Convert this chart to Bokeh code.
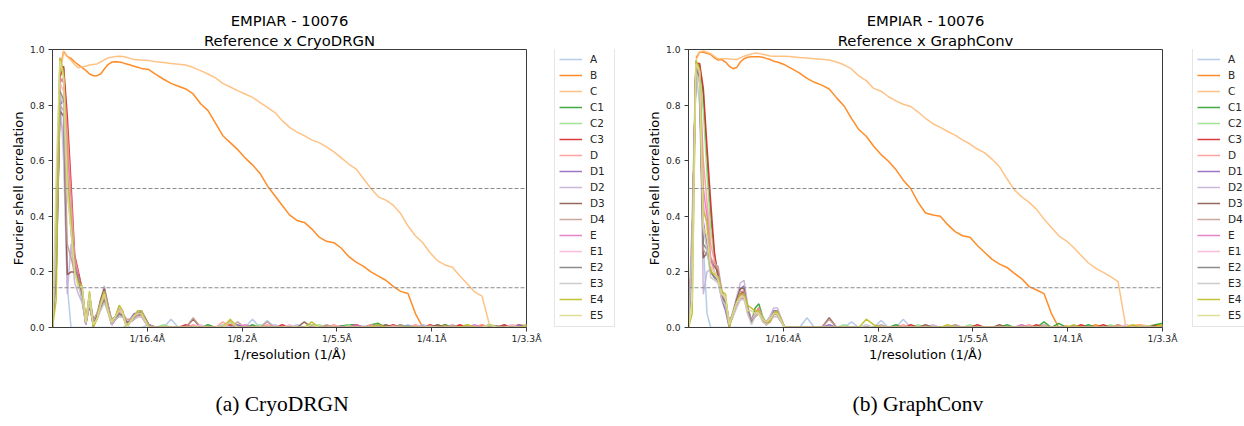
from bokeh.plotting import figure
from bokeh.models import Legend, LegendItem, Span, Title, FixedTicker, PrintfTickFormatter, Range1d, Label
from bokeh.core.properties import value
from bokeh.layouts import row, column
from bokeh.embed import file_html
from bokeh.resources import INLINE

nan = float("nan")

# ---------------- data ----------------
BOX_SIZE = 256
PIXEL_SIZE = 1.65  # Å / pixel  -> Nyquist = 1/3.3 Å
# Fourier shells: every shell at low frequency, every second shell beyond
shell_index = list(range(0, 24)) + list(range(24, 129, 2))
freq = [s / (BOX_SIZE * PIXEL_SIZE) for s in shell_index]

series_names = ["A", "B", "C", "C1", "C2", "C3", "D", "D1", "D2", "D3", "D4",
                "E", "E1", "E2", "E3", "E4", "E5"]
series_colors = ["#aec7e8", "#ff7f0e", "#ffbb78", "#2ca02c", "#98df8a", "#d62728",
                 "#ff9896", "#9467bd", "#c5b0d5", "#8c564b", "#c49c94", "#e377c2",
                 "#f7b6d2", "#7f7f7f", "#c7c7c7", "#bcbd22", "#dbdb8d"]

x_tick_shells = [25.6, 51.2, 76.8, 102.4, 128]
x_tick_labels = ["1/16.4Å", "1/8.2Å", "1/5.5Å", "1/4.1Å", "1/3.3Å"]
y_ticks = [0.0, 0.2, 0.4, 0.6, 0.8, 1.0]
fsc_thresholds = [0.5, 0.143]
captions = ["(a) CryoDRGN", "(b) GraphConv"]

# ---- Reference x CryoDRGN ----
cryodrgn_A = [0, 0.2, 0.86, 0.6, 0.15, 0, 0, 0, 0, 0, 0, 0, 0, 0, 0, 0, 0, 0, 0, 0, 0.01, 0, 0, 0,
              0, 0.01, 0, 0, 0.03, 0, 0, 0, 0, 0, 0, 0, 0, 0.01,
              0, 0.03, 0, 0.025, 0, 0, 0, 0.01, 0, 0, 0, 0, 0,
              0, 0, 0, 0, 0.005, 0, 0, 0, 0, 0.01, 0, 0, 0,
              0, 0, 0.005, 0, 0, 0, 0, 0.01, 0, 0, 0.005, 0, 0]
cryodrgn_B = [nan, nan, 0.93, 0.993, 0.975, 0.968, 0.955, 0.945, 0.935, 0.925, 0.912, 0.906,
              0.906, 0.912, 0.93, 0.946, 0.955, 0.956, 0.955, 0.952, 0.948, 0.944, 0.94, 0.936,
              0.932, 0.928, 0.91, 0.893, 0.878, 0.868, 0.858, 0.84, 0.805, 0.78, 0.735, 0.69, 0.665, 0.64,
              0.61, 0.585, 0.555, 0.51, 0.475, 0.44, 0.405, 0.385, 0.378, 0.355, 0.325, 0.31, 0.305,
              0.285, 0.255, 0.235, 0.22, 0.2, 0.185, 0.17, 0.148, 0.13, 0.122, 0.05, 0, 0.005,
              0, 0.01, 0, 0.005, 0, 0, 0.01, 0, 0.005, 0, 0, 0.01, 0.005]
cryodrgn_C = [nan, nan, 0.9, 0.995, 0.975, 0.96, 0.945, 0.934, 0.938, 0.94, 0.944, 0.946,
              0.948, 0.955, 0.963, 0.97, 0.972, 0.975, 0.976, 0.975, 0.972, 0.968, 0.964, 0.963,
              0.962, 0.96, 0.956, 0.953, 0.95, 0.947, 0.944, 0.935, 0.924, 0.912, 0.898, 0.878, 0.865, 0.852,
              0.84, 0.828, 0.81, 0.792, 0.774, 0.745, 0.72, 0.703, 0.69, 0.675, 0.665, 0.65, 0.632,
              0.61, 0.588, 0.57, 0.535, 0.5, 0.47, 0.458, 0.44, 0.41, 0.365, 0.33, 0.305, 0.268,
              0.24, 0.225, 0.217, 0.185, 0.157, 0.128, 0.113, 0.01, 0.005, 0, 0.01, 0.005, 0.01]
cryodrgn_C1 = [0, 0.35, 0.95, 0.93, 0.68, 0.42, 0.24, 0.18, 0.1, 0.02, 0.12, 0.02, 0.03, 0.07, 0.1, 0.06, 0.02, 0.04, 0.07, 0.04, 0.01, 0.02, 0.04, 0.05,
               0.06, 0.01, 0, 0, 0, 0, 0, 0, 0, 0.01, 0, 0, 0, 0,
               0, 0.01, 0, 0, 0, 0, 0, 0, 0, 0.01, 0, 0, 0,
               0.005, 0.01, 0.01, 0, 0.01, 0.015, 0, 0, 0.01, 0, 0, 0.005, 0,
               0, 0.01, 0, 0, 0.005, 0, 0, 0.01, 0, 0, 0, 0.005, 0]
cryodrgn_C2 = [0, 0.45, 0.97, 0.9, 0.65, 0.4, 0.22, 0.16, 0.12, 0.02, 0.1, 0.03, 0.04, 0.08, 0.11, 0.06, 0.01, 0.03, 0.06, 0.05, 0, 0.02, 0.03, 0.04,
               0.05, 0, 0, 0.01, 0, 0, 0, 0, 0, 0, 0, 0.01, 0, 0,
               0, 0, 0.01, 0, 0, 0, 0.005, 0, 0, 0, 0.01, 0, 0,
               0, 0.01, 0, 0, 0, 0, 0.01, 0, 0, 0, 0.005, 0, 0,
               0.01, 0, 0, 0, 0.01, 0, 0, 0, 0.005, 0, 0, 0, 0.01]
cryodrgn_C3 = [0, 0.3, 0.9, 0.94, 0.76, 0.52, 0.26, 0.2, 0.14, 0.03, 0.09, 0.01, 0.03, 0.08, 0.12, 0.07, 0.01, 0.03, 0.06, 0.04, 0.02, 0.02, 0.03, 0.04,
               0.05, 0, 0, 0, 0, 0, 0.01, 0, 0, 0, 0, 0, 0.01, 0,
               0, 0, 0, 0, 0, 0.01, 0, 0, 0, 0, 0, 0.005, 0,
               0, 0, 0.01, 0, 0, 0, 0, 0.01, 0, 0, 0, 0, 0.01,
               0, 0, 0, 0.01, 0, 0, 0.005, 0, 0, 0.01, 0, 0, 0]
cryodrgn_D = [0, 0.25, 0.88, 0.9, 0.7, 0.47, 0.25, 0.19, 0.13, 0.02, 0.08, 0.02, 0.03, 0.07, 0.1, 0.06, 0.02, 0.03, 0.05, 0.04, 0.01, 0.03, 0.04, 0.04,
              0.04, 0, 0, 0, 0, 0, 0, 0.01, 0, 0, 0, 0.02, 0, 0,
              0, 0, 0, 0.01, 0, 0, 0, 0, 0, 0, 0, 0, 0.01,
              0, 0, 0, 0, 0.01, 0, 0, 0, 0, 0, 0.01, 0, 0,
              0, 0.005, 0, 0, 0, 0, 0.01, 0, 0, 0, 0, 0.005, 0]
cryodrgn_D1 = [0, 0.2, 0.8, 0.82, 0.55, 0.35, 0.2, 0.17, 0.1, 0.01, 0.11, 0, 0.04, 0.09, 0.13, 0.06, 0.01, 0.03, 0.06, 0.05, 0, 0.03, 0.05, 0.05,
               0.06, 0.01, 0, 0, 0, 0, 0, 0, 0, 0, 0, 0, 0, 0.01,
               0, 0, 0, 0, 0, 0, 0, 0, 0, 0, 0, 0, 0,
               0.005, 0, 0, 0, 0, 0.01, 0, 0, 0, 0, 0, 0, 0,
               0, 0, 0, 0, 0, 0, 0, 0, 0.005, 0, 0, 0.01, 0]
cryodrgn_D2 = [0, 0.3, 0.75, 0.7, 0.12, 0.3, 0.16, 0.12, 0.09, 0.02, 0.12, 0.02, 0.05, 0.1, 0.15, 0.08, 0.02, 0.03, 0.05, 0.05, 0.02, 0.03, 0.04, 0.06,
               0.06, 0, 0, 0, 0, 0, 0, 0, 0, 0, 0, 0, 0, 0,
               0, 0, 0, 0, 0.01, 0, 0, 0, 0, 0, 0, 0, 0,
               0, 0, 0, 0.005, 0, 0, 0, 0, 0, 0, 0, 0.01, 0,
               0, 0, 0, 0, 0, 0, 0, 0, 0, 0, 0, 0, 0.005]
cryodrgn_D3 = [0, 0.2, 0.78, 0.76, 0.19, 0.2, 0.2, 0.19, 0.12, 0.01, 0.08, 0.01, 0.04, 0.1, 0.14, 0.08, 0.02, 0.03, 0.04, 0.04, 0.02, 0.02, 0.04, 0.05,
               0.05, 0, 0, 0, 0, 0, 0, 0.03, 0, 0, 0, 0, 0.02, 0,
               0, 0, 0, 0, 0, 0, 0, 0, 0.02, 0, 0, 0, 0,
               0, 0, 0, 0, 0, 0, 0.01, 0, 0, 0, 0, 0, 0,
               0.01, 0, 0, 0, 0, 0, 0, 0, 0, 0.005, 0, 0, 0]
cryodrgn_D4 = [0, 0.25, 0.8, 0.78, 0.3, 0.25, 0.2, 0.18, 0.11, 0.02, 0.1, 0.03, 0.05, 0.09, 0.13, 0.08, 0.03, 0.04, 0.05, 0.05, 0.03, 0.03, 0.04, 0.05,
               0.05, 0.01, 0, 0, 0, 0, 0, 0.035, 0, 0, 0, 0, 0, 0.02,
               0, 0, 0, 0.02, 0, 0, 0, 0, 0, 0, 0, 0.01, 0,
               0, 0, 0, 0, 0, 0, 0, 0, 0.01, 0, 0, 0, 0,
               0, 0, 0.01, 0, 0, 0, 0, 0, 0, 0, 0, 0, 0]
cryodrgn_E = [0, 0.3, 0.9, 0.88, 0.62, 0.45, 0.24, 0.18, 0.1, 0.02, 0.1, 0.02, 0.03, 0.07, 0.11, 0.06, 0.01, 0.03, 0.06, 0.05, 0.01, 0.02, 0.03, 0.04,
              0.04, 0, 0, 0, 0, 0, 0, 0, 0, 0, 0, 0, 0, 0,
              0.01, 0, 0, 0, 0, 0, 0, 0, 0, 0, 0, 0, 0,
              0, 0, 0.01, 0, 0, 0, 0, 0, 0, 0, 0, 0, 0,
              0, 0, 0, 0, 0, 0.01, 0, 0, 0, 0, 0, 0, 0]
cryodrgn_E1 = [0, 0.35, 0.88, 0.85, 0.58, 0.42, 0.22, 0.16, 0.12, 0.02, 0.09, 0.01, 0.03, 0.07, 0.1, 0.06, 0.02, 0.04, 0.07, 0.05, 0, 0.02, 0.04, 0.05,
               0.05, 0, 0, 0, 0, 0, 0, 0, 0.01, 0, 0, 0, 0, 0,
               0, 0, 0, 0, 0, 0, 0.01, 0, 0, 0, 0, 0, 0,
               0, 0, 0, 0, 0, 0, 0, 0.005, 0, 0, 0, 0, 0,
               0, 0, 0, 0, 0, 0, 0, 0, 0, 0, 0.01, 0, 0]
cryodrgn_E2 = [0, 0.3, 0.85, 0.82, 0.5, 0.38, 0.22, 0.17, 0.11, 0.02, 0.1, 0.02, 0.03, 0.07, 0.1, 0.06, 0.02, 0.03, 0.05, 0.04, 0.01, 0.02, 0.03, 0.05,
               0.05, 0, 0, 0, 0, 0, 0, 0, 0, 0, 0, 0, 0, 0,
               0, 0, 0, 0, 0, 0, 0, 0, 0, 0.01, 0, 0, 0,
               0, 0, 0, 0, 0, 0, 0, 0, 0, 0.005, 0, 0, 0,
               0, 0, 0, 0, 0, 0, 0, 0, 0, 0, 0, 0, 0]
cryodrgn_E3 = [0, 0.3, 0.84, 0.8, 0.48, 0.35, 0.2, 0.15, 0.1, 0.01, 0.09, 0.01, 0.03, 0.06, 0.09, 0.05, 0.01, 0.03, 0.04, 0.04, 0.01, 0.02, 0.03, 0.04,
               0.04, 0, 0, 0, 0, 0, 0, 0, 0, 0, 0, 0.01, 0, 0,
               0, 0, 0, 0, 0, 0, 0, 0, 0, 0, 0, 0, 0,
               0, 0, 0, 0, 0, 0, 0, 0, 0, 0, 0, 0, 0.005,
               0, 0, 0, 0, 0, 0, 0, 0, 0, 0, 0, 0, 0]
cryodrgn_E4 = [0, 0.1, 0.97, 0.92, 0.55, 0.4, 0.2, 0.16, 0.15, 0.02, 0.13, 0, 0.03, 0.09, 0.13, 0.06, 0.02, 0.04, 0.08, 0.06, 0, 0.02, 0.04, 0.06,
               0.06, 0, 0, 0, 0, 0, 0, 0, 0, 0, 0, 0, 0.03, 0,
               0, 0, 0, 0, 0, 0, 0, 0, 0, 0.02, 0, 0, 0,
               0, 0, 0, 0, 0, 0.01, 0, 0, 0, 0, 0, 0, 0,
               0, 0, 0, 0, 0.01, 0, 0, 0, 0, 0, 0, 0, 0.005]
cryodrgn_E5 = [0, 0.55, 0.96, 0.9, 0.5, 0.35, 0.2, 0.14, 0.15, 0.02, 0.12, 0.01, 0.03, 0.08, 0.12, 0.06, 0.02, 0.04, 0.06, 0.05, 0, 0.02, 0.04, 0.05,
               0.05, 0, 0, 0, 0, 0, 0, 0, 0, 0, 0, 0, 0.02, 0,
               0, 0, 0, 0, 0, 0, 0, 0, 0, 0.01, 0, 0, 0,
               0, 0, 0, 0, 0, 0, 0, 0, 0, 0, 0, 0, 0,
               0, 0, 0, 0, 0, 0, 0, 0.01, 0, 0, 0, 0, 0]

# ---- Reference x GraphConv ----
graphconv_A = [0, 0.2, 0.93, 0.8, 0.3, 0.05, 0, 0, 0, 0, 0, 0, 0, 0, 0, 0, 0, 0, 0, 0, 0, 0, 0, 0,
               0, 0, 0, 0, 0.035, 0, 0, 0, 0, 0, 0.02, 0, 0, 0,
               0.025, 0, 0, 0.03, 0, 0, 0, 0, 0, 0, 0.01, 0, 0,
               0, 0, 0, 0, 0, 0, 0, 0.005, 0, 0, 0, 0, 0,
               0, 0, 0, 0, 0, 0.005, 0, 0, 0, 0, 0, 0.005, 0]
graphconv_B = [nan, nan, 0.97, 0.99, 0.99, 0.986, 0.982, 0.97, 0.962, 0.964, 0.955, 0.94,
               0.931, 0.935, 0.955, 0.967, 0.972, 0.974, 0.974, 0.974, 0.972, 0.968, 0.964, 0.958,
               0.955, 0.945, 0.93, 0.915, 0.896, 0.882, 0.872, 0.858, 0.826, 0.797, 0.752, 0.712, 0.688, 0.652,
               0.622, 0.598, 0.568, 0.53, 0.5, 0.45, 0.412, 0.405, 0.4, 0.37, 0.345, 0.33, 0.325,
               0.295, 0.27, 0.245, 0.228, 0.216, 0.195, 0.175, 0.147, 0.135, 0.122, 0.05, 0, 0.005,
               0, 0.005, 0, 0.01, 0, 0.005, 0, 0, 0.005, 0.01, 0, 0.005, 0.01]
graphconv_C = [nan, nan, 0.96, 0.99, 0.995, 0.99, 0.985, 0.975, 0.966, 0.967, 0.967, 0.966,
               0.965, 0.964, 0.97, 0.976, 0.98, 0.984, 0.987, 0.986, 0.983, 0.98, 0.977, 0.976,
               0.976, 0.976, 0.974, 0.971, 0.969, 0.967, 0.965, 0.962, 0.955, 0.945, 0.93, 0.905, 0.888, 0.86,
               0.85, 0.83, 0.815, 0.803, 0.795, 0.775, 0.752, 0.733, 0.72, 0.705, 0.692, 0.675, 0.66,
               0.642, 0.628, 0.605, 0.578, 0.535, 0.495, 0.47, 0.45, 0.425, 0.39, 0.36, 0.33, 0.312,
               0.288, 0.26, 0.232, 0.213, 0.198, 0.183, 0.165, 0.01, 0.005, 0.01, 0.005, 0.01, 0.008]
graphconv_C1 = [0, 0.3, 0.95, 0.94, 0.84, 0.6, 0.4, 0.26, 0.18, 0.12, 0.08, 0.01, 0.04, 0.08, 0.11, 0.12, 0.07, 0.02, 0.07, 0.085, 0.04, 0.01, 0.03, 0.05,
                0.05, 0, 0, 0, 0, 0, 0, 0, 0, 0, 0, 0, 0, 0,
                0, 0, 0.01, 0, 0, 0, 0, 0, 0, 0, 0, 0, 0,
                0, 0, 0, 0, 0.01, 0, 0, 0, 0, 0.02, 0, 0.015, 0,
                0, 0, 0.01, 0, 0, 0, 0.01, 0, 0, 0, 0, 0.01, 0.015]
graphconv_C2 = [0, 0.4, 0.96, 0.93, 0.78, 0.55, 0.36, 0.25, 0.2, 0.13, 0.1, 0.02, 0.05, 0.09, 0.12, 0.13, 0.06, 0.02, 0.05, 0.07, 0.04, 0.02, 0.03, 0.06,
                0.06, 0, 0, 0, 0, 0, 0, 0, 0, 0.01, 0, 0, 0, 0,
                0, 0, 0, 0, 0, 0.01, 0, 0, 0, 0, 0, 0, 0.01,
                0, 0, 0, 0, 0, 0, 0.01, 0, 0, 0, 0, 0, 0,
                0, 0, 0, 0, 0, 0.01, 0, 0, 0, 0, 0.005, 0, 0]
graphconv_C3 = [0, 0.3, 0.95, 0.95, 0.86, 0.65, 0.45, 0.27, 0.18, 0.12, 0.09, 0.01, 0.05, 0.09, 0.12, 0.13, 0.07, 0.02, 0.05, 0.07, 0.03, 0.01, 0.02, 0.05,
                0.05, 0, 0, 0, 0, 0, 0, 0, 0, 0, 0, 0, 0, 0,
                0, 0, 0, 0, 0.01, 0, 0, 0, 0, 0, 0, 0, 0,
                0.01, 0, 0, 0, 0, 0, 0, 0, 0.01, 0, 0, 0, 0,
                0, 0.01, 0, 0, 0.01, 0, 0, 0, 0, 0, 0, 0.005, 0]
graphconv_D = [0, 0.35, 0.94, 0.92, 0.6, 0.45, 0.3, 0.24, 0.2, 0.13, 0.1, 0.02, 0.05, 0.09, 0.11, 0.12, 0.06, 0.02, 0.05, 0.07, 0.03, 0.01, 0.03, 0.05,
               0.05, 0, 0, 0, 0, 0, 0, 0, 0, 0, 0, 0, 0, 0,
               0, 0, 0, 0.01, 0, 0, 0, 0, 0, 0, 0, 0, 0,
               0, 0, 0, 0, 0, 0, 0, 0.01, 0, 0, 0, 0, 0,
               0, 0, 0, 0, 0, 0, 0.01, 0, 0, 0, 0, 0, 0]
graphconv_D1 = [0, 0.3, 0.93, 0.9, 0.38, 0.3, 0.2, 0.18, 0.17, 0.1, 0.06, 0, 0.05, 0.1, 0.14, 0.15, 0.07, 0.02, 0.05, 0.06, 0.03, 0.02, 0.03, 0.06,
                0.06, 0, 0, 0, 0, 0, 0, 0.01, 0, 0, 0, 0, 0, 0,
                0, 0, 0, 0, 0, 0, 0, 0, 0, 0, 0, 0, 0,
                0, 0, 0, 0, 0, 0, 0, 0, 0, 0, 0, 0, 0,
                0.005, 0, 0, 0, 0, 0, 0, 0, 0, 0, 0, 0, 0]
graphconv_D2 = [0, 0.25, 0.92, 0.88, 0.12, 0.2, 0.21, 0.18, 0.16, 0.11, 0.08, 0.01, 0.06, 0.11, 0.16, 0.17, 0.08, 0.02, 0.05, 0.06, 0.03, 0.02, 0.04, 0.07,
                0.07, 0, 0, 0, 0, 0, 0, 0, 0, 0, 0, 0, 0, 0,
                0, 0, 0, 0, 0, 0, 0, 0.01, 0, 0, 0, 0, 0,
                0, 0, 0, 0, 0, 0, 0, 0, 0, 0, 0, 0, 0,
                0, 0, 0, 0, 0, 0, 0, 0, 0, 0.005, 0, 0, 0]
graphconv_D3 = [0, 0.3, 0.93, 0.9, 0.25, 0.27, 0.24, 0.22, 0.2, 0.12, 0.09, 0.01, 0.05, 0.1, 0.14, 0.14, 0.06, 0.02, 0.04, 0.05, 0.03, 0.02, 0.03, 0.05,
                0.05, 0, 0, 0, 0, 0, 0, 0.035, 0, 0, 0, 0, 0, 0,
                0, 0, 0, 0, 0, 0, 0.01, 0, 0, 0, 0, 0, 0,
                0, 0, 0, 0.01, 0, 0, 0, 0, 0, 0, 0, 0, 0,
                0, 0, 0, 0, 0, 0, 0, 0, 0, 0, 0, 0, 0]
graphconv_D4 = [0, 0.3, 0.94, 0.9, 0.28, 0.26, 0.25, 0.23, 0.22, 0.13, 0.1, 0.02, 0.05, 0.09, 0.13, 0.13, 0.07, 0.03, 0.05, 0.05, 0.03, 0.02, 0.03, 0.05,
                0.05, 0, 0, 0, 0, 0, 0, 0.03, 0, 0, 0, 0, 0, 0,
                0.01, 0, 0, 0, 0, 0, 0, 0, 0, 0, 0.01, 0, 0,
                0, 0, 0, 0, 0, 0, 0, 0, 0, 0.01, 0, 0, 0,
                0, 0, 0, 0, 0, 0, 0, 0, 0, 0, 0, 0, 0]
graphconv_E = [0, 0.3, 0.94, 0.92, 0.5, 0.4, 0.25, 0.2, 0.17, 0.11, 0.09, 0.02, 0.04, 0.08, 0.1, 0.11, 0.05, 0.02, 0.05, 0.05, 0.03, 0.02, 0.03, 0.04,
               0.04, 0, 0, 0, 0, 0, 0, 0, 0, 0, 0, 0, 0, 0,
               0, 0, 0, 0, 0, 0, 0, 0, 0, 0, 0, 0, 0,
               0, 0, 0, 0, 0, 0, 0.01, 0, 0, 0, 0, 0, 0,
               0, 0, 0, 0, 0, 0, 0, 0, 0, 0, 0, 0, 0]
graphconv_E1 = [0, 0.35, 0.93, 0.9, 0.45, 0.36, 0.22, 0.2, 0.18, 0.12, 0.1, 0.02, 0.04, 0.08, 0.11, 0.12, 0.05, 0.02, 0.05, 0.06, 0.03, 0.02, 0.03, 0.05,
                0.05, 0, 0, 0, 0, 0, 0, 0, 0, 0, 0, 0, 0, 0,
                0, 0, 0, 0, 0, 0, 0, 0, 0, 0, 0, 0, 0,
                0, 0, 0, 0, 0, 0, 0, 0, 0, 0, 0, 0, 0,
                0, 0, 0, 0, 0, 0, 0, 0.01, 0, 0, 0, 0, 0]
graphconv_E2 = [0, 0.3, 0.93, 0.9, 0.3, 0.28, 0.2, 0.18, 0.17, 0.11, 0.09, 0.01, 0.05, 0.09, 0.12, 0.12, 0.06, 0.02, 0.04, 0.05, 0.03, 0.02, 0.02, 0.05,
                0.05, 0, 0, 0, 0, 0, 0, 0, 0, 0, 0, 0, 0, 0,
                0, 0, 0, 0, 0, 0, 0, 0, 0, 0, 0, 0, 0,
                0, 0, 0, 0, 0, 0, 0, 0, 0, 0, 0, 0, 0,
                0, 0, 0, 0, 0, 0, 0, 0, 0, 0, 0, 0, 0]
graphconv_E3 = [0, 0.3, 0.92, 0.88, 0.35, 0.28, 0.18, 0.17, 0.16, 0.1, 0.08, 0.01, 0.04, 0.07, 0.1, 0.1, 0.05, 0.01, 0.04, 0.05, 0.02, 0.01, 0.02, 0.04,
                0.04, 0, 0, 0, 0, 0, 0, 0, 0, 0, 0, 0, 0.01, 0,
                0, 0, 0, 0, 0, 0, 0, 0, 0, 0, 0, 0, 0,
                0, 0, 0, 0, 0, 0, 0, 0, 0, 0, 0, 0, 0,
                0, 0, 0, 0, 0, 0, 0, 0, 0, 0, 0, 0, 0]
graphconv_E4 = [0, 0.05, 0.96, 0.93, 0.42, 0.38, 0.2, 0.19, 0.18, 0.13, 0.12, 0, 0.05, 0.09, 0.12, 0.12, 0.08, 0.07, 0.06, 0.06, 0.03, 0.02, 0.02, 0.05,
                0.06, 0, 0, 0, 0, 0, 0, 0, 0, 0, 0, 0, 0.03, 0.01,
                0, 0, 0, 0, 0, 0, 0, 0, 0, 0.01, 0, 0, 0,
                0, 0, 0, 0, 0, 0, 0, 0, 0, 0, 0, 0, 0,
                0.01, 0, 0, 0, 0, 0, 0, 0, 0.01, 0, 0, 0, 0.01]
graphconv_E5 = [0, 0.1, 0.95, 0.92, 0.36, 0.33, 0.22, 0.2, 0.17, 0.12, 0.11, 0.01, 0.05, 0.09, 0.11, 0.11, 0.06, 0.06, 0.05, 0.05, 0.03, 0.02, 0.03, 0.05,
                0.05, 0, 0, 0, 0, 0, 0, 0, 0, 0, 0, 0, 0, 0,
                0, 0, 0, 0, 0, 0, 0, 0, 0, 0, 0, 0, 0,
                0, 0, 0, 0, 0, 0, 0, 0, 0, 0, 0, 0, 0,
                0, 0, 0, 0, 0, 0, 0, 0, 0, 0, 0, 0, 0]

cryodrgn_fsc = dict(zip(series_names, [
    cryodrgn_A, cryodrgn_B, cryodrgn_C, cryodrgn_C1, cryodrgn_C2, cryodrgn_C3,
    cryodrgn_D, cryodrgn_D1, cryodrgn_D2, cryodrgn_D3, cryodrgn_D4,
    cryodrgn_E, cryodrgn_E1, cryodrgn_E2, cryodrgn_E3, cryodrgn_E4, cryodrgn_E5]))
graphconv_fsc = dict(zip(series_names, [
    graphconv_A, graphconv_B, graphconv_C, graphconv_C1, graphconv_C2, graphconv_C3,
    graphconv_D, graphconv_D1, graphconv_D2, graphconv_D3, graphconv_D4,
    graphconv_E, graphconv_E1, graphconv_E2, graphconv_E3, graphconv_E4, graphconv_E5]))

for tbl in (cryodrgn_fsc, graphconv_fsc):
    for k, v in tbl.items():
        assert len(v) == len(freq), (k, len(v), len(freq))

FONT = "DejaVu Sans"
INK = "#262626"
SPINE = "#3a3a3a"
LINE_W = 1.5
LINE_A = 0.9
PLOT_H = 380
STRIP_H = 426 - PLOT_H
TOP_BORDER = 49
BOTTOM_BORDER = PLOT_H - 327


def make_panel(title_top, title_bottom, data, width, border_right):
    p = figure(width=width, height=PLOT_H,
               x_range=Range1d(0, freq[-1]), y_range=Range1d(0, 1),
               output_backend="svg", toolbar_location=None,
               min_border_left=52, min_border_right=border_right,
               min_border_top=TOP_BORDER, min_border_bottom=BOTTOM_BORDER)
    p.background_fill_color = "white"
    p.border_fill_color = "white"
    p.outline_line_color = SPINE
    p.outline_line_width = 1
    p.grid.visible = False

    # the built-in title sits farthest from the frame
    p.title.text = title_top
    p.title.align = "center"
    p.title.text_font = FONT
    p.title.text_font_size = "14.8px"
    p.title.text_font_style = "normal"
    p.title.text_color = "black"
    p.title.standoff = 0
    sub = Title(text=title_bottom, align="center", text_font=FONT, text_font_size="14.8px",
                text_font_style="normal", text_color="black", standoff=2)
    p.add_layout(sub, "above")

    tick_pos = [s / (BOX_SIZE * PIXEL_SIZE) for s in x_tick_shells]
    p.xaxis.ticker = FixedTicker(ticks=tick_pos)
    p.xaxis.major_label_overrides = {t: lab for t, lab in zip(tick_pos, x_tick_labels)}
    p.yaxis.ticker = FixedTicker(ticks=y_ticks)
    p.yaxis.formatter = PrintfTickFormatter(format="%.1f")
    p.xaxis.axis_label = "1/resolution (1/Å)"
    p.yaxis.axis_label = "Fourier shell correlation"
    for ax in (p.xaxis[0], p.yaxis[0]):
        ax.axis_line_color = SPINE
        ax.major_tick_line_color = SPINE
        ax.minor_tick_line_color = None
        ax.major_tick_in = 0
        ax.major_tick_out = 4
        ax.major_label_text_font = FONT
        ax.major_label_text_font_size = "9.2px"
        ax.major_label_text_color = INK
        ax.axis_label_text_font = FONT
        ax.axis_label_text_font_size = "13px"
        ax.axis_label_text_font_style = "normal"
        ax.axis_label_text_color = "black"
    p.xaxis.major_label_standoff = 1
    p.xaxis.axis_label_standoff = 0
    p.yaxis.major_label_standoff = 4
    p.yaxis.axis_label_standoff = 1

    for name, color in zip(series_names, series_colors):
        p.line(freq, data[name], line_color=color, line_width=LINE_W, line_alpha=LINE_A)

    for th in fsc_thresholds:
        p.add_layout(Span(location=th, dimension="width", line_color="#8c8c8c",
                          line_dash="4 2", line_width=1))
    return p


def make_legend(width):
    lf = figure(width=width, height=PLOT_H, x_range=Range1d(0, 1), y_range=Range1d(0, 1),
                output_backend="svg", toolbar_location=None,
                x_axis_location=None, y_axis_location=None,
                min_border_left=0, min_border_right=0,
                min_border_top=TOP_BORDER, min_border_bottom=BOTTOM_BORDER)
    lf.outline_line_color = None
    lf.grid.visible = False
    lf.background_fill_color = "white"
    lf.border_fill_color = "white"
    items = []
    for name, color in zip(series_names, series_colors):
        r = lf.line([nan], [nan], line_color=color, line_width=LINE_W, line_alpha=LINE_A)
        items.append(LegendItem(label=value(name), renderers=[r]))
    legend = Legend(items=items, location=(0, 0),
                    glyph_width=23, glyph_height=14, label_height=14,
                    label_standoff=8, spacing=2, padding=4, margin=0,
                    label_text_font=FONT, label_text_font_size="10.5px",
                    label_text_color=INK,
                    border_line_color="#cccccc", border_line_width=1,
                    background_fill_color="white", background_fill_alpha=0.8)
    lf.add_layout(legend, "center")
    return lf


def make_caption_strip():
    s = figure(width=1244, height=STRIP_H, x_range=Range1d(0, 1), y_range=Range1d(0, 1),
               output_backend="svg", toolbar_location=None,
               x_axis_location=None, y_axis_location=None,
               min_border_left=0, min_border_right=0, min_border_top=0, min_border_bottom=0)
    s.outline_line_color = None
    s.grid.visible = False
    s.background_fill_color = "white"
    s.border_fill_color = "white"
    for text, sx in zip(captions, [215, 852]):
        s.add_layout(Label(x=sx, y=STRIP_H - 23, x_units="screen", y_units="screen",
                           text=text, text_baseline="middle", text_align="left",
                           text_font="Liberation Serif", text_font_size="21.5px",
                           text_color="black"))
    return s


p1 = make_panel("EMPIAR - 10076", "Reference x CryoDRGN", cryodrgn_fsc, 554, 28)
leg1 = make_legend(82)
p2 = make_panel("EMPIAR - 10076", "Reference x GraphConv", graphconv_fsc, 556, 30)
leg2 = make_legend(52)
strip = make_caption_strip()

layout = column(row(p1, leg1, p2, leg2), strip)
open("out.html", "w").write(file_html(layout, INLINE))
